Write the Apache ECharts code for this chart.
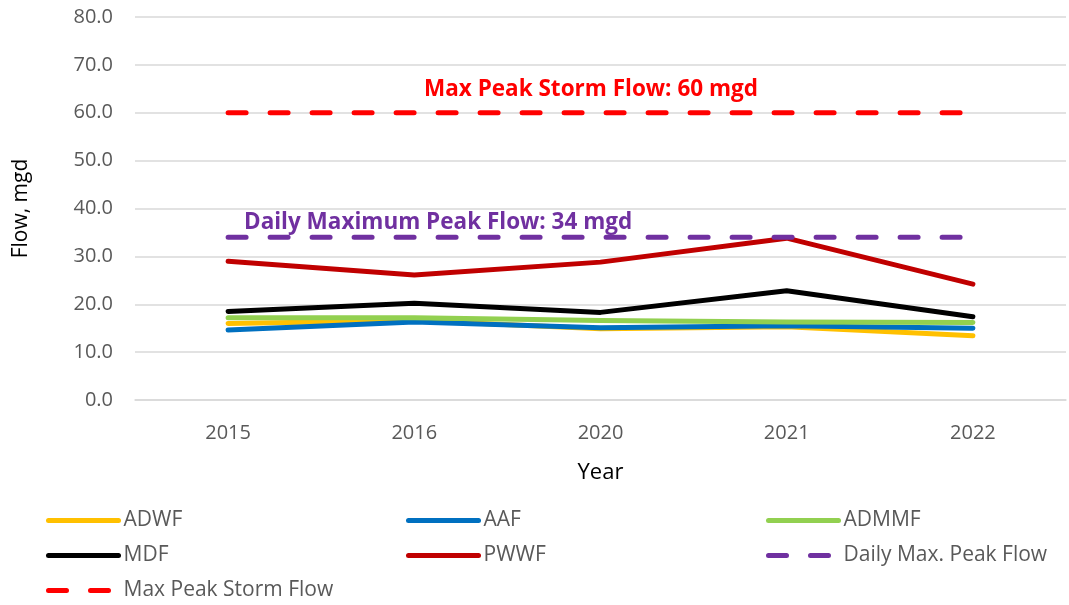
<!DOCTYPE html>
<html>
<head>
<meta charset="UTF-8">
<title></title>
<script src="https://cdn.jsdelivr.net/npm/echarts@6/dist/echarts.min.js"></script>
<style>
	html, body {
		width: 100%;
		height: 100%;
		margin: 0;
		padding: 0;
		background: #ffffff;
	}
	#chart {
		width: 1069px;
		height: 605px;
	}
</style>
</head>
<body>
<div id="chart"></div>
<script>
	var years = ['2015', '2016', '2020', '2021', '2022'];
	var adwf = [16.0, 16.6, 14.9, 15.3, 13.4];
	var aaf = [14.6, 16.3, 15.1, 15.5, 15.0];
	var admmf = [17.2, 17.2, 16.6, 16.3, 16.2];
	var mdf = [18.5, 20.2, 18.3, 22.8, 17.4];
	var pwwf = [29.0, 26.1, 28.8, 33.8, 24.2];
	var dailyMaxPeak = [34, 34, 34, 34, 34];
	var maxPeakStorm = [60, 60, 60, 60, 60];
	var yTicks = [0, 80, 10];

	var font = '"Open Sans", sans-serif';

	function solid(name, color, data) {
		return {
			name: name,
			type: 'line',
			data: data,
			symbol: 'none',
			showSymbol: false,
			lineStyle: { color: color, width: 5, cap: 'round', join: 'round' },
			itemStyle: { color: color }
		};
	}

	function dashed(name, color, data) {
		var s = solid(name, color, data);
		s.lineStyle.type = [18, 24];
		return s;
	}

	function makeLegend(left, names) {
		return {
			orient: 'vertical',
			left: left,
			top: 510,
			padding: 0,
			height: 110,
			itemWidth: 70,
			itemHeight: 2,
			itemGap: 14,
			data: names,
			itemStyle: { opacity: 0 },
			lineStyle: { width: 5, cap: 'round' },
			textStyle: { color: '#595959', fontSize: 21, fontFamily: font }
		};
	}

	var chart = echarts.init(document.getElementById('chart'));
	chart.setOption({
		animation: false,
		backgroundColor: '#ffffff',
		grid: { left: 135, right: 3, top: 17, bottom: 205 },
		legend: [
			makeLegend(46, ['ADWF', 'MDF', 'Max Peak Storm Flow']),
			makeLegend(406, ['AAF', 'PWWF']),
			makeLegend(766, ['ADMMF', 'Daily Max. Peak Flow'])
		],
		xAxis: {
			type: 'category',
			data: years,
			name: 'Year',
			nameLocation: 'middle',
			nameGap: 62,
			nameTextStyle: { color: '#000000', fontSize: 22, fontFamily: font },
			axisLine: { show: true, lineStyle: { color: '#d9d9d9', width: 1.5 } },
			axisTick: { show: false },
			axisLabel: { color: '#595959', fontSize: 20, fontFamily: font, margin: 23 }
		},
		yAxis: {
			type: 'value',
			min: yTicks[0],
			max: yTicks[1],
			interval: yTicks[2],
			name: 'Flow, mgd',
			nameLocation: 'middle',
			nameRotate: 90,
			nameGap: 103,
			nameTextStyle: { color: '#000000', fontSize: 21, fontFamily: font },
			axisLine: { show: false },
			axisTick: { show: false },
			splitLine: { lineStyle: { color: '#d9d9d9', width: 1.5 } },
			axisLabel: {
				color: '#595959', fontSize: 20, fontFamily: font, margin: 22,
				formatter: function (v) { return v.toFixed(1); }
			}
		},
		graphic: [
			{
				type: 'text', left: 424, top: 78,
				style: { text: 'Max Peak Storm Flow: 60 mgd', fill: '#ff0000', font: 'bold 22.5px "Open Sans", sans-serif' }
			},
			{
				type: 'text', left: 244, top: 211,
				style: { text: 'Daily Maximum Peak Flow: 34 mgd', fill: '#7030a0', font: 'bold 22.5px "Open Sans", sans-serif' }
			}
		],
		series: [
			solid('ADWF', '#ffc000', adwf),
			solid('AAF', '#0070c0', aaf),
			solid('ADMMF', '#92d050', admmf),
			solid('MDF', '#000000', mdf),
			solid('PWWF', '#c00000', pwwf),
			dashed('Daily Max. Peak Flow', '#7030a0', dailyMaxPeak),
			dashed('Max Peak Storm Flow', '#ff0000', maxPeakStorm)
		]
	});
</script>
</body>
</html>
